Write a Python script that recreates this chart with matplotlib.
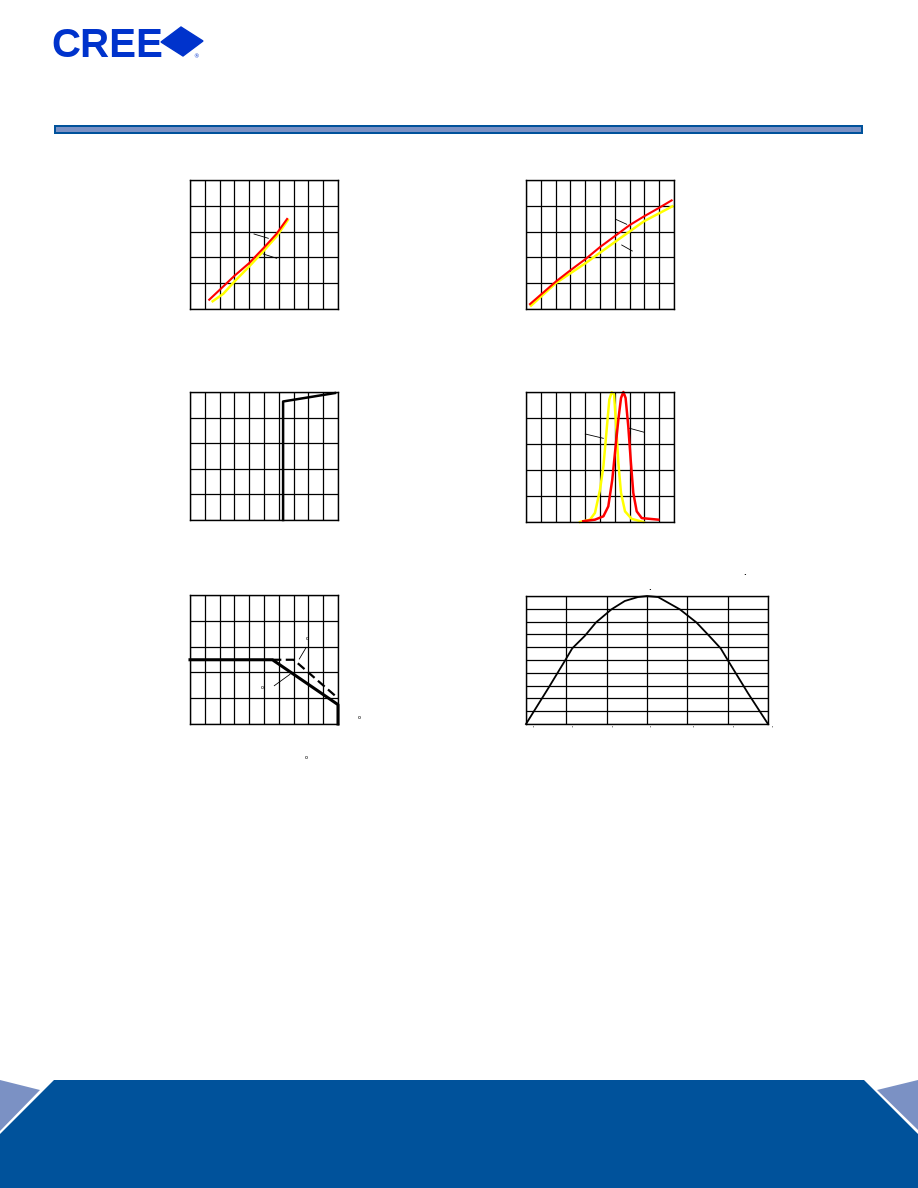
import numpy as np
import matplotlib
matplotlib.use("Agg")
import matplotlib.pyplot as plt
from matplotlib.patches import Polygon, Rectangle

W, H = 918, 1188

# chart 1 (two curves, grid units)
c1_red_x = [1.30, 2.02, 3.01, 4.00, 5.03, 5.84, 6.56]
c1_red_y = [0.36, 0.75, 1.29, 1.78, 2.40, 2.91, 3.49]
c1_yel_x = [1.53, 2.25, 3.01, 4.00, 4.94, 5.84, 6.61]
c1_yel_y = [0.30, 0.59, 1.07, 1.65, 2.23, 2.81, 3.45]

# chart 2
c2_red_x = [0.27, 2.03, 3.00, 4.03, 5.00, 6.06, 7.00, 7.97, 8.96, 9.84]
c2_red_y = [0.19, 1.07, 1.50, 1.94, 2.40, 2.85, 3.25, 3.59, 3.91, 4.21]
c2_yel_x = [0.34, 2.03, 4.03, 6.06, 7.97, 9.89]
c2_yel_y = [0.13, 1.01, 1.78, 2.62, 3.40, 3.98]

# chart 3
c3_x = [6.29, 6.29, 9.80]
c3_y = [0.00, 4.63, 4.96]

# chart 4 (spectra)
c4_yel_x = [3.65, 4.32, 4.66, 5.00, 5.23, 5.45, 5.63, 5.79, 5.95, 6.08, 6.24, 6.42, 6.69, 7.14, 7.93]
c4_yel_y = [0.00, 0.09, 0.35, 1.24, 2.14, 3.55, 4.71, 4.99, 4.90, 3.81, 2.27, 1.12, 0.41, 0.12, 0.00]
c4_red_x = [3.87, 4.66, 5.23, 5.56, 5.83, 6.01, 6.24, 6.42, 6.58, 6.73, 6.91, 7.09, 7.25, 7.48, 7.82, 8.94]
c4_red_y = [0.03, 0.09, 0.22, 0.60, 1.63, 2.65, 3.94, 4.77, 5.00, 4.77, 3.68, 2.27, 1.12, 0.41, 0.15, 0.09]

# chart 5 (derating)
c5_solid_x = [0.00, 5.57, 10.0, 10.0]
c5_solid_y = [2.49, 2.49, 0.75, 0.00]
c5_dash_x = [5.57, 7.01, 10.0]
c5_dash_y = [2.49, 2.49, 1.00]

# chart 6 (radiation pattern)
c6_angle = [-90, -73.4, -61.0, -55.6, -46.2, -38.0, -26.4, -16.5, -6.7, 0,
            8.2, 24.4, 36.8, 46.2, 54.8, 60.3, 75.1, 90]
c6_rel = [0, 28, 49.5, 59.1, 68.9, 79.3, 89.6, 96.1, 99.2, 100,
          99.2, 89.6, 79.3, 68.9, 59.1, 49.5, 24.1, 0]

DARK = '#00529b'
LIGHT = '#7b91c4'

fig = plt.figure(figsize=(W / 100, H / 100), dpi=100)


def px_axes(x0, y0, x1, y1, z=1):
    return fig.add_axes([x0 / W, 1 - y1 / H, (x1 - x0) / W, (y1 - y0) / H], zorder=z)


# page decoration
bg = px_axes(0, 0, W, H, z=0)
bg.set_xlim(0, W)
bg.set_ylim(H, 0)
bg.axis('off')

bg.text(51, 57, 'CREE', fontsize=29, fontweight='bold', family='Liberation Sans',
        color='#0033cc', va='baseline', ha='left')
bg.add_patch(Polygon([(161, 42), (181, 27), (203, 41), (183, 56)], closed=True, color='#0033cc'))
bg.text(196, 57, '®', fontsize=4, color='#0033cc', ha='center', va='center')

bg.add_patch(Rectangle((54, 125), 809, 9, facecolor=DARK, edgecolor='none'))
bg.add_patch(Rectangle((56, 127), 805, 5, facecolor=LIGHT, edgecolor='none'))

bg.add_patch(Polygon([(54, 1080), (864, 1080), (918, 1134), (918, H), (0, H), (0, 1134)],
                     closed=True, facecolor=DARK, edgecolor='none'))
bg.add_patch(Polygon([(0, 1080), (40, 1090), (0, 1131)], closed=True, facecolor=LIGHT, edgecolor='none'))
bg.add_patch(Polygon([(877, 1090), (918, 1080), (918, 1130)], closed=True, facecolor=LIGHT, edgecolor='none'))


def grid_axes(box, xlim, ylim, xstep, ystep):
    ax = px_axes(*box)
    ax.set_xlim(*xlim)
    ax.set_ylim(*ylim)
    ax.set_xticks(np.arange(xlim[0], xlim[1] + 0.01, xstep))
    ax.set_yticks(np.arange(ylim[0], ylim[1] + 0.01, ystep))
    ax.tick_params(length=0, labelbottom=False, labelleft=False)
    ax.grid(True, color='black', lw=0.9)
    ax.set_axisbelow(True)
    for s in ax.spines.values():
        s.set_linewidth(1.0)
    return ax


ax1 = grid_axes((190, 180, 338, 309), (0, 10), (0, 5), 1, 1)
ax1.plot(c1_yel_x, c1_yel_y, color='#ffff00', lw=1.8)
ax1.plot(c1_red_x, c1_red_y, color='#ff0000', lw=1.5)

ax2 = grid_axes((526, 180, 674, 309), (0, 10), (0, 5), 1, 1)
ax2.plot(c2_yel_x, c2_yel_y, color='#ffff00', lw=1.8)
ax2.plot(c2_red_x, c2_red_y, color='#ff0000', lw=1.5)

ax3 = grid_axes((190, 392, 338, 520), (0, 10), (0, 5), 1, 1)
ax3.plot(c3_x, c3_y, color='black', lw=1.8, clip_on=False)

ax4 = grid_axes((526, 392, 674, 522), (0, 10), (0, 5), 1, 1)
ax4.plot(c4_yel_x, c4_yel_y, color='#ffff00', lw=1.8, clip_on=False)
ax4.plot(c4_red_x, c4_red_y, color='#ff0000', lw=1.8, clip_on=False)

ax5 = grid_axes((190, 595, 338, 724), (0, 10), (0, 5), 1, 1)
ax5.plot(c5_solid_x, c5_solid_y, color='black', lw=2.2, clip_on=False)
ax5.plot(c5_dash_x, c5_dash_y, color='black', lw=1.6, ls=(0, (4, 2)), clip_on=False)

ax6 = grid_axes((526, 596, 768, 724), (-90, 90), (0, 100), 30, 10)
ax6.plot(c6_angle, c6_rel, color='black', lw=1.3, clip_on=False)

# leader lines and leftover label fragments
ov = px_axes(0, 0, W, H, z=5)
ov.set_xlim(0, W)
ov.set_ylim(H, 0)
ov.axis('off')
ov.patch.set_alpha(0)
leaders = [
    ((254, 268.3), (234, 238.3)), ((263.3, 276.7), (254, 258.3)),
    ((615.7, 626.7), (219.3, 224.3)), ((621.7, 632.3), (245, 251)),
    ((585.3, 603.3), (434, 438.3)), ((629.7, 644.3), (428.3, 432.3)),
    ((299.3, 306), (659, 647.7)), ((274.3, 290), (685.7, 674.3)),
]
for xs, ys in leaders:
    ov.plot(xs, ys, color='black', lw=0.6)
for x, y in [(307.3, 639), (262.7, 687.7), (359, 717.3), (306, 757.7)]:
    ov.text(x, y, 'o', fontsize=3.5, ha='center', va='center')
for x, y in [(650, 587.5), (744.3, 572.7)]:
    ov.text(x, y, '.', fontsize=5, fontweight='bold', ha='center', va='center')
for x in [532.7, 571.7, 611.7, 650, 693.3, 733.3, 771.7]:
    ov.text(x, 728.5, "'", fontsize=3.5, ha='center', va='center')

fig.savefig('out.png', dpi=100)
